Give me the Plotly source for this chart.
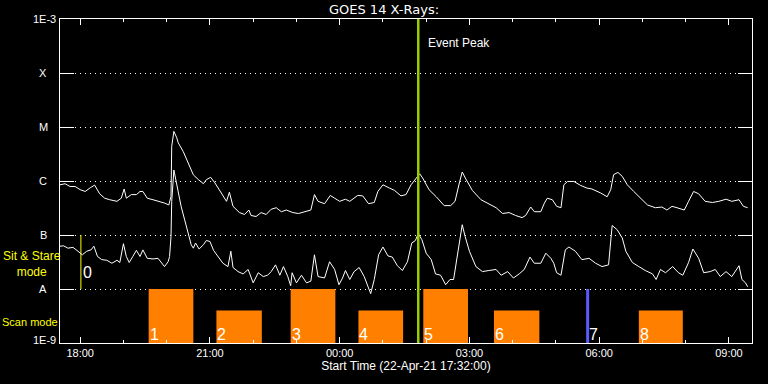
import math
import plotly.graph_objects as go
import pandas as pd

# ---- data (minutes after start time, flux in W/m^2) ----
start_time = "2021-04-22 17:32:00"
window_min = 960

upper_t = [0,7,14,21,28,35,42,48,55,62,
           69,79,85,89,92,99,106,111,115,121,
           129,138,145,151,154,155,158,162,164,171,
           178,185,192,199,203,209,215,222,231,235,
           240,249,256,262,265,272,279,286,293,300,
           307,314,323,331,342,348,353,358,367,375,
           381,388,396,402,413,420,428,436,441,448,
           457,464,473,480,487,495,499,503,512,522,
           533,542,548,554,558,563,572,584,595,605,
           614,623,632,641,646,653,658,667,672,676,
           683,689,695,699,704,713,722,731,738,750,
           759,764,768,774,780,787,796,805,815,826,
           835,842,849,856,866,872,879,886,895,905,
           914,924,932,942,948,954]
upper_f = [8.5e-7,8.9e-7,7.9e-7,7.9e-7,6.9e-7,6.4e-7,7.5e-7,8.4e-7,5.8e-7,4.8e-7,
           4.5e-7,4.2e-7,4.8e-7,7.1e-7,4.8e-7,5.6e-7,5.6e-7,6.4e-7,6.4e-7,4.8e-7,
           4.5e-7,4.2e-7,3.9e-7,3.6e-7,5.2e-7,4.4e-6,8.3e-6,6.3e-6,5.1e-6,3.5e-6,
           2.2e-6,1.3e-6,1.06e-6,8.9e-7,1.06e-6,1.17e-6,9.2e-7,6.4e-7,4.2e-7,6.2e-7,
           3.4e-7,2.6e-7,2.4e-7,2.9e-7,2.3e-7,2.2e-7,2.6e-7,2.4e-7,3.0e-7,3.2e-7,
           2.7e-7,2.9e-7,2.6e-7,2.5e-7,2.8e-7,2.9e-7,5.6e-7,4.2e-7,3.8e-7,5.4e-7,
           4.8e-7,4.2e-7,4.6e-7,4.2e-7,5.4e-7,5.3e-7,3.8e-7,4.0e-7,6.4e-7,8.5e-7,
           7.4e-7,6.7e-7,5.3e-7,5.6e-7,8.5e-7,1.14e-6,1.36e-6,1.14e-6,6.9e-7,5.1e-7,
           3.5e-7,3.5e-7,4.2e-7,9.2e-7,1.47e-6,1.09e-6,6.7e-7,4.5e-7,3.8e-7,3.2e-7,
           2.5e-7,2.6e-7,2.3e-7,2.1e-7,2.3e-7,3.3e-7,2.7e-7,2.7e-7,3.9e-7,4.8e-7,
           4.5e-7,3.4e-7,3.2e-7,8.5e-7,9.8e-7,9.8e-7,8.3e-7,7.4e-7,7.1e-7,6.0e-7,
           5.1e-7,6.9e-7,1.31e-6,1.44e-6,1.22e-6,8.5e-7,6.4e-7,4.8e-7,3.6e-7,3.2e-7,
           3.3e-7,2.9e-7,3.4e-7,3.2e-7,2.9e-7,4.2e-7,6.4e-7,5.8e-7,4.2e-7,4.0e-7,
           4.2e-7,4.6e-7,4.2e-7,4.5e-7,3.4e-7,3.2e-7]

lower_t = [0,5,11,18,25,31,37,43,47,52,
           58,65,72,79,83,88,92,96,101,106,
           111,115,121,129,136,141,145,150,152,154,
           155,158,161,164,168,173,178,182,185,188,
           193,199,203,208,213,219,226,233,237,240,
           247,254,261,268,275,282,288,293,299,305,
           310,316,320,322,328,335,342,348,353,358,
           367,374,381,387,392,396,402,408,415,422,
           431,436,442,448,455,461,468,475,482,488,
           493,497,502,508,515,521,528,535,541,546,
           550,555,558,562,568,577,586,595,605,612,
           621,629,637,644,652,658,667,674,681,
           685,689,695,701,706,715,724,734,743,752,
           761,766,773,780,785,794,803,812,822,827,
           833,840,850,858,864,872,878,886,893,902,
           909,916,924,932,942,946,951,954]
lower_f = [6.2e-8,6.3e-8,5.7e-8,5.9e-8,5.0e-8,4.3e-8,5.0e-8,5.3e-8,6.2e-8,4.0e-8,
           3.5e-8,3.4e-8,3.0e-8,3.4e-8,3.1e-8,6.9e-8,4.0e-8,3.1e-8,4.0e-8,5.2e-8,
           4.0e-8,5.3e-8,3.7e-8,3.6e-8,3.7e-8,3.1e-8,2.6e-8,3.2e-8,4.0e-8,9.4e-8,
           4.2e-7,1.6e-6,9.8e-7,6.4e-7,3.4e-7,1.9e-7,1.0e-7,6.6e-8,5.7e-8,7.1e-8,
           5.5e-8,6.6e-8,7.9e-8,7.6e-8,5.2e-8,4.0e-8,3.0e-8,2.6e-8,5.0e-8,2.5e-8,
           2.1e-8,1.9e-8,2.3e-8,1.3e-8,2.0e-8,1.7e-8,1.8e-8,2.1e-8,2.8e-8,1.8e-8,
           2.6e-8,1.7e-8,1.15e-8,2.0e-8,1.3e-8,1.8e-8,1.3e-8,1.4e-8,4.3e-8,1.7e-8,
           1.6e-8,3.2e-8,2.3e-8,1.2e-8,1.6e-8,2.2e-8,1.5e-8,2.1e-8,2.5e-8,1.7e-8,
           8.2e-9,1.5e-8,4.3e-8,6.0e-8,4.1e-8,3.9e-8,2.7e-8,2.2e-8,3.2e-8,7.1e-8,
           7.9e-8,1.06e-7,8.2e-8,4.6e-8,3.5e-8,1.9e-8,1.8e-8,1.2e-8,1.5e-8,1.5e-8,
           3.5e-8,8.2e-8,1.55e-7,9.4e-8,5.0e-8,2.6e-8,2.1e-8,2.2e-8,2.3e-8,1.8e-8,
           2.1e-8,1.6e-8,1.9e-8,2.3e-8,3.9e-8,3.0e-8,3.0e-8,4.6e-8,3.7e-8,
           3.0e-8,2.0e-8,1.8e-8,5.3e-8,6.0e-8,5.0e-8,3.5e-8,3.7e-8,3.0e-8,2.6e-8,
           2.8e-8,1.5e-7,1.25e-7,8.8e-8,5.0e-8,3.1e-8,2.6e-8,2.2e-8,1.9e-8,1.5e-8,
           2.3e-8,2.0e-8,2.6e-8,2.0e-8,1.8e-8,3.1e-8,5.5e-8,3.7e-8,2.0e-8,2.1e-8,
           2.3e-8,1.7e-8,2.1e-8,1.7e-8,2.7e-8,1.5e-8,1.3e-8,1.1e-8]

scan_start = [123, 217, 320, 414, 504, 602, 803]
scan_end = [185, 280, 382, 476, 566, 665, 864]
scan_top = [1e-8, 4e-9, 1e-8, 4e-9, 1e-8, 4e-9, 4e-9]
scan_labels = ["1", "2", "3", "4", "5", "6", "8"]
stare_time = 29          # sit & stare pointing "0"
scan7_time = 732         # scan "7" (short)
event_peak_time = 497

class_vals = [1e-9, 1e-8, 1e-7, 1e-6, 1e-5, 1e-4, 1e-3]
class_text = ["1E-9", "A", "B", "C", "M", "X", "1E-3"]

# ---- helpers ----
t0 = pd.Timestamp(start_time)
def tt(mins):
    return [t0 + pd.Timedelta(minutes=m) for m in mins]

ORANGE = "rgb(255,128,0)"
FONT = "Liberation Sans"

fig = go.Figure()

for s, e, top in zip(scan_start, scan_end, scan_top):
    fig.add_trace(go.Scatter(x=tt([s, s, e, e, s]), y=[1e-9, top, top, 1e-9, 1e-9],
                             mode="lines", fill="toself", fillcolor=ORANGE,
                             line=dict(width=0, color=ORANGE), hoverinfo="skip"))

fig.add_trace(go.Scatter(x=tt([scan7_time, scan7_time]), y=[1e-9, 1e-8], mode="lines",
                         line=dict(color="rgb(90,90,255)", width=3)))
fig.add_trace(go.Scatter(x=tt([stare_time, stare_time]), y=[1e-8, 1e-7], mode="lines",
                         line=dict(color="rgb(255,255,0)", width=1)))

fig.add_trace(go.Scatter(x=tt(upper_t), y=upper_f, mode="lines",
                         line=dict(color="white", width=1)))
fig.add_trace(go.Scatter(x=tt(lower_t), y=lower_f, mode="lines",
                         line=dict(color="white", width=1)))

fig.add_trace(go.Scatter(x=tt([event_peak_time, event_peak_time]), y=[1e-9, 1e-3], mode="lines",
                         line=dict(color="rgb(153,204,0)", width=2.5)))

ann = []
# y class labels
for v, txt in zip(class_vals, class_text):
    lv = math.log10(v)
    if txt.startswith("1E"):
        ann.append(dict(x=0, xref="paper", y=lv, yref="y", text=txt, showarrow=False,
                        xanchor="right", yanchor="middle", xshift=-2, yshift=(3 if lv == -9 else 0),
                        font=dict(color="white", size=11, family=FONT)))
    else:
        ann.append(dict(x=0, xref="paper", y=lv, yref="y", text=txt, showarrow=False,
                        xanchor="center", yanchor="middle", xshift=-17,
                        font=dict(color="white", size=11, family=FONT)))

# scan numbers
for s, lab in zip(scan_start, scan_labels):
    ann.append(dict(x=tt([s])[0], xref="x", y=0, yref="paper", text=lab, showarrow=False,
                    xanchor="left", yanchor="bottom", xshift=-1, yshift=-2,
                    font=dict(color="white", size=16, family=FONT)))
ann.append(dict(x=tt([scan7_time])[0], xref="x", y=0, yref="paper", text="7", showarrow=False,
                xanchor="left", yanchor="bottom", xshift=-1, yshift=-2,
                font=dict(color="white", size=16, family=FONT)))
ann.append(dict(x=tt([stare_time])[0], xref="x", y=-7.69, yref="y", text="0", showarrow=False,
                xanchor="left", yanchor="middle", xshift=0,
                font=dict(color="white", size=16, family=FONT)))
ann.append(dict(x=tt([event_peak_time])[0], xref="x", y=0.926, yref="paper", text="Event Peak",
                showarrow=False, xanchor="left", yanchor="middle", xshift=8,
                font=dict(color="white", size=12, family=FONT)))
# mode labels
ann.append(dict(x=0, xref="paper", y=-7.54, yref="y", text="Sit & Stare<br>mode", showarrow=False,
                xanchor="center", yanchor="middle", xshift=-28, align="center",
                font=dict(color="rgb(255,255,0)", size=12, family=FONT)))
ann.append(dict(x=0, xref="paper", y=-8.62, yref="y", text="Scan mode", showarrow=False,
                xanchor="left", yanchor="middle", xshift=-60,
                font=dict(color="rgb(255,255,0)", size=11, family=FONT)))

fig.update_layout(
    width=768, height=384,
    margin=dict(l=60, r=16, t=19, b=41),
    paper_bgcolor="black", plot_bgcolor="black",
    showlegend=False,
    title=dict(text="GOES 14 X-Rays:", x=0.5, xanchor="center", y=1 - 9 / 384, yanchor="middle",
               yref="container", font=dict(color="white", size=13, family="DejaVu Sans")),
    annotations=ann,
    font=dict(family=FONT, color="white", size=11),
)

fig.update_xaxes(
    type="date", range=[t0, t0 + pd.Timedelta(minutes=window_min)],
    showline=True, linecolor="white", linewidth=1, mirror="ticks",
    ticks="inside", ticklen=6, tickcolor="white", tickwidth=1,
    tick0="2021-04-22 18:00:00", dtick=3 * 3600 * 1000, tickformat="%H:%M",
    minor=dict(ticks="inside", ticklen=3, tickcolor="white", dtick=3600 * 1000, showgrid=False),
    showgrid=False, zeroline=False,
    tickfont=dict(color="white", size=11, family=FONT),
    title=dict(text="Start Time (22-Apr-21 17:32:00)", font=dict(color="white", size=12, family=FONT),
               standoff=3),
    automargin=False,
)
fig.update_yaxes(
    type="log", range=[-9, -3],
    showline=True, linecolor="white", linewidth=1, mirror="ticks",
    ticks="inside", ticklen=14, tickcolor="white", tickwidth=1,
    tickvals=class_vals, showticklabels=False,
    showgrid=True, gridcolor="white", gridwidth=1, griddash="1px,4px",
    zeroline=False, automargin=False,
)

fig.write_html("out.html", config={"displayModeBar": False},
               post_script="document.body.style.margin='0';document.body.style.background='black';")
